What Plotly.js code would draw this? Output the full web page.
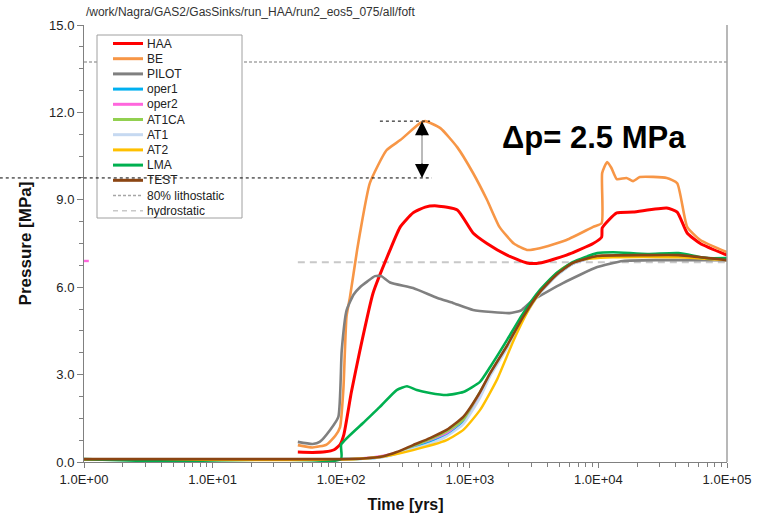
<!DOCTYPE html>
<html>
<head>
<meta charset="utf-8">
<script src="https://cdn.plot.ly/plotly-3.0.1.min.js"></script>
<style>html,body{margin:0;padding:0;background:#fff;}#chart{width:759px;height:513px;}</style>
</head>
<body>
<div id="chart"></div>
<script>
// ---------- data ----------
const chartTitle = "/work/Nagra/GAS2/GasSinks/run_HAA/run2_eos5_075/all/foft";
const seriesNames = ["HAA","BE","PILOT","oper1","oper2","AT1CA","AT1","AT2","LMA","TEST"];
const seriesColors = ["#ff0000","#f79646","#808080","#00b0f0","#ff66dd","#92d050","#c6d9f1","#ffc000","#00b050","#8b4513"];

const tHAA = [46, 60, 75, 88, 98, 105, 120, 140, 177, 240, 288, 362, 450, 556, 800, 1060, 1360, 1950, 2780, 3500, 5650, 9100, 10600, 10700, 12000, 13900, 18600, 34000, 41000, 49000, 62000, 100000];
const pHAA = [0.34, 0.33, 0.35, 0.42, 0.6, 0.95, 2.4, 3.84, 5.8, 7.28, 8.07, 8.55, 8.75, 8.79, 8.65, 7.86, 7.5, 7.1, 6.83, 6.83, 7.1, 7.5, 7.72, 8.03, 8.3, 8.55, 8.58, 8.72, 8.58, 7.86, 7.5, 7.1];

const tBE = [46, 60, 77, 90, 98, 104, 110, 117, 133, 140, 167, 225, 288, 410, 450, 590, 800, 1060, 1360, 1700, 2200, 2780, 3500, 5650, 9100, 10600, 10700, 11700, 12600, 13900, 16500, 18600, 21000, 34000, 41000, 49000, 62000, 100000];
const pBE = [0.58, 0.5, 0.6, 0.9, 1.2, 2.5, 5.0, 5.66, 7.28, 7.86, 9.57, 10.7, 11.05, 11.63, 11.7, 11.46, 10.8, 9.92, 9.0, 8.07, 7.5, 7.28, 7.34, 7.62, 8.07, 8.2, 9.92, 10.3, 10.1, 9.71, 9.75, 9.64, 9.78, 9.75, 9.57, 8.07, 7.62, 7.2];

const tPILOT = [46, 60, 68, 82, 95, 101, 110, 125, 140, 160, 183, 205, 240, 362, 560, 740, 1060, 2040, 2500, 3100, 5300, 9800, 15500, 30000, 100000];
const pPILOT = [0.69, 0.62, 0.69, 1.1, 1.55, 3.84, 5.2, 5.75, 6.0, 6.2, 6.38, 6.38, 6.16, 5.97, 5.63, 5.46, 5.22, 5.11, 5.2, 5.56, 6.14, 6.69, 6.9, 6.93, 6.93];

const tLate = [1, 100, 148, 213, 270, 362, 490, 660, 890, 1200, 1440, 1950, 2600, 3500, 4700, 6300, 9800, 24000, 42000, 100000];
const pOper1 = [0.1, 0.1, 0.11, 0.18, 0.3, 0.5, 0.7, 0.95, 1.4, 2.3, 3.0, 3.95, 4.95, 5.8, 6.4, 6.8, 7.05, 7.08, 7.08, 6.93];
const pAT1CA = [0.1, 0.1, 0.12, 0.19, 0.32, 0.55, 0.78, 1.05, 1.45, 2.4, 3.02, 3.98, 4.97, 5.82, 6.41, 6.82, 7.06, 7.09, 7.09, 6.93];
const pAT1   = [0.1, 0.1, 0.11, 0.17, 0.28, 0.45, 0.63, 0.88, 1.3, 2.2, 2.95, 3.9, 4.9, 5.78, 6.38, 6.8, 7.04, 7.07, 7.07, 6.93];
const pTEST  = [0.1, 0.1, 0.12, 0.2, 0.34, 0.58, 0.82, 1.1, 1.55, 2.4, 3.05, 4.0, 4.98, 5.83, 6.42, 6.83, 7.07, 7.1, 7.1, 6.93];

const tOper2 = [0.97, 1.09, null, 1, 100, 148, 213, 270, 362, 490, 660, 890, 1200, 1440, 1950, 2600, 3500, 4700, 6300, 9800, 24000, 42000, 100000];
const pOper2 = [6.9, 6.9, null, 0.1, 0.1, 0.13, 0.22, 0.33, 0.55, 0.76, 1.0, 1.45, 2.35, 3.0, 3.96, 4.96, 5.81, 6.41, 6.81, 7.05, 7.08, 7.08, 6.93];

const tAT2 = [1, 100, 200, 362, 660, 890, 1200, 1620, 2200, 2950, 3950, 5300, 7100, 13000, 42000, 100000];
const pAT2 = [0.08, 0.08, 0.17, 0.41, 0.75, 1.1, 1.78, 2.81, 4.19, 5.32, 6.14, 6.66, 6.93, 7.03, 7.03, 6.93];

const tLMA = [1, 99.5, 100, 148, 200, 270, 325, 387, 490, 660, 890, 1200, 1440, 1950, 2600, 3500, 4700, 6300, 9800, 13000, 24000, 42000, 69000, 100000];
const pLMA = [0.1, 0.1, 0.6, 1.34, 1.89, 2.47, 2.6, 2.47, 2.37, 2.3, 2.4, 2.75, 3.26, 4.19, 5.11, 5.9, 6.48, 6.86, 7.17, 7.2, 7.14, 7.17, 7.0, 7.0];

const tLitho = [1, 100000];
const pLitho = [13.73, 13.73];
const tHydro = [46, 100000];
const pHydro = [6.86, 6.86];

const xTickVals = [1, 10, 100, 1000, 10000, 100000];
const xTickText = ["1.0E+00","1.0E+01","1.0E+02","1.0E+03","1.0E+04","1.0E+05"];

// Δp annotation values
const peakP = 11.7, lowP = 9.75, arrowT = 425, peakT0 = 200, peakT1 = 490;
const deltaLabel = "Δp= 2.5 MPa";

// ---------- build ----------
const FONT = "Arial, 'Liberation Sans', sans-serif";
const seriesX = [tHAA, tBE, tPILOT, tLate, tOper2, tLate, tLate, tAT2, tLMA, tLate];
const seriesY = [pHAA, pBE, pPILOT, pOper1, pOper2, pAT1CA, pAT1, pAT2, pLMA, pTEST];
const seriesW = [3, 2.6, 2.6, 2.4, 2.4, 2.4, 2.4, 2.4, 2.6, 2.6];

const traces = [
  {x: tLitho, y: pLitho, mode: "lines", name: "80% lithostatic", line: {color: "#a6a6a6", width: 1.5, dash: "3px,2px"}, showlegend: false},
  {x: tHydro, y: pHydro, mode: "lines", name: "hydrostatic", line: {color: "#c8c8c8", width: 2, dash: "7px,5px"}, showlegend: false}
];
seriesNames.forEach((n, i) => {
  traces.push({x: seriesX[i], y: seriesY[i], mode: "lines", name: n, connectgaps: false,
    line: {color: seriesColors[i], width: seriesW[i], shape: "spline", smoothing: 0.5}, showlegend: false});
});

// manual legend (Excel-style compact legend)
const W = 643, H = 437; // plot area size in px
const px2x = p => (p - 84) / W;
const py2y = p => (462 - p) / H;
const shapes = [];
const annotations = [];
shapes.push({type: "rect", xref: "paper", yref: "paper", x0: px2x(97), x1: px2x(242), y0: py2y(218), y1: py2y(35),
  line: {color: "#a0a0a0", width: 1}, fillcolor: "#ffffff", layer: "above"});
const legNames = seriesNames.concat(["80% lithostatic", "hydrostatic"]);
const legColors = seriesColors.concat(["#a6a6a6", "#c8c8c8"]);
const legDash = seriesNames.map(() => "solid").concat(["3px,2px", "5px,4px"]);
const legW = seriesNames.map(() => 3).concat([1.5, 1.5]);
legNames.forEach((n, i) => {
  const yy = 43.5 + i * 15.2;
  shapes.push({type: "line", xref: "paper", yref: "paper", x0: px2x(113), x1: px2x(143), y0: py2y(yy), y1: py2y(yy),
    line: {color: legColors[i], width: legW[i], dash: legDash[i]}, layer: "above"});
  annotations.push({xref: "paper", yref: "paper", x: px2x(145), y: py2y(yy), text: n, showarrow: false,
    xanchor: "left", yanchor: "middle", font: {family: FONT, size: 12, color: "#222"}});
});

// right frame line
shapes.push({type: "line", xref: "paper", yref: "paper", x0: 1, x1: 1, y0: 0, y1: 1, line: {color: "#a0a0a0", width: 1.5}, layer: "above"});
// dotted reference lines for Δp
shapes.push({type: "line", xref: "x", yref: "y", x0: peakT0, x1: peakT1, y0: peakP, y1: peakP, line: {color: "#000", width: 1, dash: "dot"}, layer: "above"});
shapes.push({type: "line", xref: "paper", yref: "y", x0: -0.131, x1: px2x(432), y0: lowP, y1: lowP, line: {color: "#000", width: 1, dash: "dot"}, layer: "above"});
shapes.push({type: "line", xref: "x", yref: "y", x0: arrowT, x1: arrowT, y0: peakP, y1: lowP, line: {color: "#777", width: 1}, layer: "above"});
annotations.push({x: Math.log10(arrowT), y: peakP, xref: "x", yref: "y", text: "", showarrow: true, arrowhead: 2, arrowsize: 2.8, arrowwidth: 1, arrowcolor: "#000", ax: 0, ay: 16});
annotations.push({x: Math.log10(arrowT), y: lowP, xref: "x", yref: "y", text: "", showarrow: true, arrowhead: 2, arrowsize: 2.8, arrowwidth: 1, arrowcolor: "#000", ax: 0, ay: -16});
annotations.push({xref: "paper", yref: "paper", x: px2x(594), y: py2y(137), text: "<b>" + deltaLabel + "</b>", showarrow: false,
  xanchor: "center", yanchor: "middle", font: {family: FONT, size: 31, color: "#000"}});

const minorX = [];
for (let d = 0; d < 5; d++) for (let k = 2; k <= 9; k++) minorX.push(k * Math.pow(10, d));

const layout = {
  width: 759, height: 513,
  margin: {l: 84, r: 32, t: 25, b: 51},
  paper_bgcolor: "#ffffff", plot_bgcolor: "#ffffff",
  font: {family: FONT, color: "#222"},
  title: {text: chartTitle, font: {family: FONT, size: 12, color: "#333"}, xref: "paper", x: 0.003, xanchor: "left", yref: "container", y: 0.977, yanchor: "middle"},
  showlegend: false,
  xaxis: {
    type: "log", range: [0, 5], tickmode: "array", tickvals: xTickVals, ticktext: xTickText,
    ticks: "outside", ticklen: 5, tickcolor: "#808080", showline: true, linecolor: "#808080", linewidth: 1,
    showgrid: false, zeroline: false, tickfont: {family: FONT, size: 13, color: "#222"},
    minor: {tickmode: "array", tickvals: minorX, ticks: "outside", ticklen: 4, tickcolor: "#808080", showgrid: false},
    title: {text: "<b>Time [yrs]</b>", font: {family: FONT, size: 16, color: "#111"}, standoff: 13}
  },
  yaxis: {
    range: [0, 15], tickmode: "linear", tick0: 0, dtick: 3, tickformat: ".1f",
    ticks: "outside", ticklen: 6, tickcolor: "#808080", showline: true, linecolor: "#808080", linewidth: 1,
    showgrid: false, zeroline: false, tickfont: {family: FONT, size: 13, color: "#222"},
    minor: {dtick: 0.75, ticks: "outside", ticklen: 4, tickcolor: "#808080", showgrid: false},
    title: {text: "<b>Pressure [MPa]</b>", font: {family: FONT, size: 17, color: "#111"}, standoff: 13}
  },
  shapes: shapes,
  annotations: annotations
};

Plotly.newPlot("chart", traces, layout, {staticPlot: true, displayModeBar: false});
</script>
</body>
</html>
